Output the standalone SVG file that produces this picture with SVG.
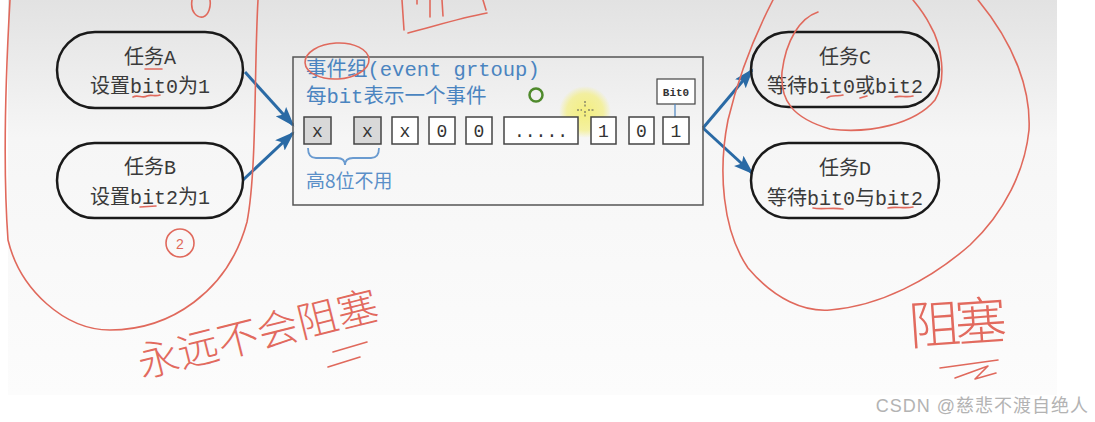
<svg xmlns="http://www.w3.org/2000/svg" width="1095" height="422" viewBox="0 0 1095 422">
<defs>
<linearGradient id="bg" x1="0" y1="0" x2="0" y2="1">
<stop offset="0" stop-color="#e2e2e2"/>
<stop offset="0.35" stop-color="#f6f6f6"/>
<stop offset="1" stop-color="#fcfcfc"/>
</linearGradient>
<radialGradient id="hl">
<stop offset="0" stop-color="#f4ee6a" stop-opacity="0.85"/>
<stop offset="0.7" stop-color="#f4ee6a" stop-opacity="0.6"/>
<stop offset="1" stop-color="#f4ee6a" stop-opacity="0"/>
</radialGradient>
<marker id="ah" markerUnits="userSpaceOnUse" markerWidth="22" markerHeight="16" refX="18" refY="7" orient="auto">
<path d="M0,0 L20,7 L0,14 L4,7 z" fill="#2a6aa5"/>
</marker>
<style>
.pill{fill:none;stroke:#1a1a1a;stroke-width:2.5}
.nt{font-family:"Liberation Mono","Noto Sans CJK SC",monospace;font-size:20px;fill:#3a3a3a;text-anchor:middle}
.bt{font-family:"Liberation Mono","Noto Sans CJK SC",monospace;font-size:20.5px;fill:#4a84c0}
.cell{fill:#fff;stroke:#444;stroke-width:1.5}
.gcell{fill:#d8d8d8;stroke:#444;stroke-width:1.5}
.ct{font-family:"Liberation Mono",monospace;font-size:18px;fill:#333;text-anchor:middle}
.conn{fill:none;stroke:#2a6aa5;stroke-width:3}
.red{fill:none;stroke:#e0695c;stroke-width:1.6;stroke-linecap:round;stroke-linejoin:round}
.hw{font-family:"Noto Sans CJK SC",sans-serif;font-weight:300;fill:#e26a5e}
</style>
</defs>

<rect x="0" y="0" width="1095" height="422" fill="#ffffff"/>
<rect x="8" y="0" width="1049" height="395" fill="url(#bg)"/>

<g id="connectors">
<path class="conn" d="M245,72 L293,125" marker-end="url(#ah)"/>
<path class="conn" d="M243,180 L293,133" marker-end="url(#ah)"/>
<path class="conn" d="M703,128 L752,70" marker-end="url(#ah)"/>
<path class="conn" d="M703,128 L752,173" marker-end="url(#ah)"/>
</g>

<g id="taskA">
<rect class="pill" x="57" y="32" width="186" height="76" rx="38"/>
<text class="nt" x="150" y="64">任务A</text>
<text class="nt" x="150" y="93">设置bit0为1</text>
</g>

<g id="taskB">
<rect class="pill" x="57" y="143" width="186" height="75" rx="37.5"/>
<text class="nt" x="150" y="174">任务B</text>
<text class="nt" x="150" y="204">设置bit2为1</text>
</g>

<g id="taskC">
<rect class="pill" x="751" y="32" width="188" height="75" rx="37.5"/>
<text class="nt" x="845" y="64">任务C</text>
<text class="nt" x="845" y="93">等待bit0或bit2</text>
</g>

<g id="taskD">
<rect class="pill" x="751" y="143" width="188" height="75" rx="37.5"/>
<text class="nt" x="845" y="175">任务D</text>
<text class="nt" x="845" y="205">等待bit0与bit2</text>
</g>

<g id="eventGroup">
<rect x="293" y="57" width="410" height="148" fill="none" stroke="#555" stroke-width="1.5"/>
<text class="bt" x="306" y="76">事件组(event grtoup)</text>
<text class="bt" x="306" y="103">每bit表示一个事件</text>
<circle cx="536" cy="95" r="6.5" fill="none" stroke="#4f8a2c" stroke-width="2.5"/>
<circle cx="585" cy="112" r="26" fill="url(#hl)"/>
<path d="M585,101 L585,107 M585,111 L585,118 M577,110 L582,110 M588,110 L594,110" stroke="#555" stroke-width="1" stroke-dasharray="2,1.5"/>
<rect x="657" y="79" width="38" height="25" fill="#fff" stroke="#444" stroke-width="1.2"/>
<text x="676" y="96" font-family="Liberation Mono,monospace" font-size="11" font-weight="bold" fill="#333" text-anchor="middle">Bit0</text>
<line x1="675" y1="104" x2="675" y2="117" stroke="#4a84c0" stroke-width="1.2"/>
<rect class="gcell" x="304" y="117" width="27" height="27"/>
<text class="ct" x="317.5" y="137">x</text>
<rect class="gcell" x="354" y="117" width="27" height="27"/>
<text class="ct" x="367.5" y="137">x</text>
<rect class="cell" x="392" y="117" width="26" height="27"/>
<text class="ct" x="405" y="137">x</text>
<rect class="cell" x="429" y="117" width="26" height="27"/>
<text class="ct" x="442" y="137">0</text>
<rect class="cell" x="466" y="117" width="26" height="27"/>
<text class="ct" x="479" y="137">0</text>
<rect class="cell" x="504" y="117" width="74" height="27"/>
<text class="ct" x="541" y="137">.....</text>
<rect class="cell" x="591" y="117" width="25" height="27"/>
<text class="ct" x="603.5" y="137">1</text>
<rect class="cell" x="629" y="117" width="25" height="27"/>
<text class="ct" x="641.5" y="137">0</text>
<rect class="cell" x="663" y="117" width="26" height="27"/>
<text class="ct" x="676" y="137">1</text>
<path d="M308,148 Q308,158 316,158 L337,158 Q345,158 345,165 Q345,158 353,158 L371,158 Q379,158 379,148" fill="none" stroke="#6a9bd0" stroke-width="1.8"/>
<text x="306" y="188" font-family="Noto Sans CJK SC,sans-serif" font-size="19" fill="#5a8fc8">高8位不用</text>
</g>

<g id="annotations">
<path class="red" d="M10,0 C6,70 3,170 8,240 C20,290 65,330 110,330 C170,330 228,292 247,222 C257,170 254,70 258,0"/>
<path class="red" d="M192,0 C190,12 197,18 203,17 C209,15 211,6 210,0"/>
<circle class="red" cx="180" cy="243" r="14"/>
<text x="180" y="249" font-family="Liberation Sans,sans-serif" font-size="14" fill="#e0695c" text-anchor="middle">2</text>
<path class="red" d="M145,69 L162,69 M133,97 C138,94 142,99 147,96 C151,94 155,97 160,95 M140,207 L156,206"/>
<path class="red" d="M827,98 C832,94 838,97 843,95 M860,98 L867,96 M895,97 C900,95 906,98 913,96 M813,208 C822,210 832,207 843,209 M888,208 C895,206 905,209 913,207"/>
<ellipse class="red" cx="337" cy="61" rx="32" ry="18" transform="rotate(-3 337 61)"/>
<path class="red" d="M402,0 L404,30 M408,33 C435,26 460,18 487,13 M483,0 L486,10 M430,0 L430,17 M442,0 L443,16 M417,0 L417,4"/>
<path class="red" d="M818,12 C800,18 786,40 782,72 C780,100 792,118 830,129 C870,134 915,124 935,100 C947,80 942,45 930,25 C925,15 918,6 913,0"/>
<path class="red" d="M773,0 C760,25 740,70 728,120 C718,170 722,230 748,268 C775,300 805,312 830,310 C880,306 930,280 970,245 C1005,212 1025,170 1029,130 C1031,90 1015,45 978,0"/>
<text class="hw" font-size="41" transform="translate(142,378) rotate(-14)">永远不会阻塞</text>
<path class="red" d="M333,352 L367,342 M328,367 L360,357"/>
<text class="hw" font-size="52" letter-spacing="-6" transform="translate(910,345) rotate(-4)">阻塞</text>
<path class="red" d="M940,368 L998,360 M955,378 L988,366 L975,379 L996,373"/>
</g>

<text x="1089" y="412" font-family="Liberation Sans,Noto Sans CJK SC,sans-serif" font-size="18" letter-spacing="1" fill="#b3b3b3" text-anchor="end">CSDN @慈悲不渡自绝人</text>
</svg>
